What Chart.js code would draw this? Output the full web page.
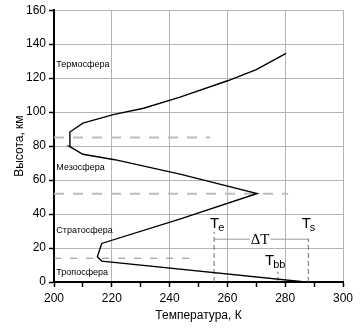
<!DOCTYPE html>
<html lang="ru">
<head>
    <meta charset="UTF-8">
    <title>Профиль температуры атмосферы</title>
    <script src="https://cdn.jsdelivr.net/npm/chart.js@4.4.1/dist/chart.umd.min.js"></script>
    <style>
        html, body { margin: 0; padding: 0; background: #fff; }
        #wrap { width: 363px; height: 328px; }
    </style>
</head>
<body>
    <div id="wrap"><canvas id="chart" width="363" height="328"></canvas></div>
    <script>
        // Temperature profile (K) vs altitude (km)
        const profileTemp = [287, 216.5, 215, 216.5, 243.5, 270.3, 243.6, 221, 210, 205.2, 205.5, 210, 220.5, 231, 243.6, 260.3, 270, 280.3];
        const profileAlt  = [0, 12.3, 14.9, 22.7, 37, 52.1, 63.5, 72, 75.2, 80, 88.3, 93.5, 98.5, 102.3, 108.8, 118.6, 125, 134.6];

        // Layer boundaries (dashed): altitude and where the dash ends
        const boundaryAlt = [85, 52, 14];
        const boundaryEnd = [254, 281, 249];

        // Characteristic temperatures
        const teTemp = 255.4, tsTemp = 288, tbbTemp = 277.5;
        const teTop = 29.5, tsTop = 25.5, tbbTop = 6, deltaAlt = 25.2;

        // Layer names and where they sit (K, km)
        const layerNames = ['Термосфера', 'Мезосфера', 'Стратосфера', 'Тропосфера'];
        const layerAlt = [128.3, 67.5, 30.5, 5.5];
        const layerTemp = 200.8;

        const xTicks = [200, 220, 240, 260, 280, 300];
        const yTicks = [0, 20, 40, 60, 80, 100, 120, 140, 160];

        const FONT = "Arial, 'Liberation Sans', sans-serif";

        function pts(xs, ys) {
            return xs.map((x, i) => ({ x: x, y: ys[i] }));
        }

        const datasets = [];
        datasets.push({
            data: pts(profileTemp, profileAlt),
            borderColor: '#000', borderWidth: 1.4, pointRadius: 0, showLine: true
        });
        boundaryAlt.forEach((a, i) => {
            const thin = i === 2;
            datasets.push({
                data: [{ x: 200, y: a }, { x: boundaryEnd[i], y: a }],
                borderColor: thin ? '#8c8c8c' : '#bdbdbd',
                borderWidth: thin ? 1 : 2,
                borderDash: thin ? [7, 9] : [10, 9],
                pointRadius: 0, showLine: true
            });
        });
        [[teTemp, teTop], [tsTemp, tsTop], [tbbTemp, tbbTop]].forEach(t => {
            datasets.push({
                data: [{ x: t[0], y: 0 }, { x: t[0], y: t[1] }],
                borderColor: '#6e6e6e', borderWidth: 1, borderDash: [5, 3],
                pointRadius: 0, showLine: true
            });
        });
        datasets.push({
            data: [{ x: teTemp, y: deltaAlt }, { x: tsTemp, y: deltaAlt }],
            borderColor: '#9a9a9a', borderWidth: 1, pointRadius: 0, showLine: true
        });

        const labelsPlugin = {
            id: 'labels',
            afterDatasetsDraw(chart) {
                const { ctx, scales: { x, y } } = chart;
                ctx.save();
                ctx.fillStyle = '#000';
                ctx.textBaseline = 'middle';
                ctx.textAlign = 'left';
                ctx.font = '9px ' + FONT;
                layerNames.forEach((n, i) => {
                    ctx.fillText(n, x.getPixelForValue(layerTemp), y.getPixelForValue(layerAlt[i]));
                });

                // T with subscript
                function tLabel(text, sub, temp, alt) {
                    const px = x.getPixelForValue(temp), py = y.getPixelForValue(alt);
                    ctx.textBaseline = 'alphabetic';
                    ctx.font = '15px ' + FONT;
                    ctx.fillText(text, px, py);
                    const w = ctx.measureText(text).width;
                    ctx.font = '11px ' + FONT;
                    ctx.fillText(sub, px + w - 1, py + 3);
                }
                tLabel('T', 'e', 254, 31.7);
                tLabel('T', 's', 285.7, 31.7);
                tLabel('T', 'bb', 273, 10);

                // ΔT over the line
                ctx.font = "15px 'Times New Roman', 'Liberation Serif', serif";
                ctx.textAlign = 'center';
                ctx.textBaseline = 'middle';
                const dx = x.getPixelForValue(271.3), dy = y.getPixelForValue(deltaAlt);
                const tw = ctx.measureText('ΔT').width;
                ctx.fillStyle = '#fff';
                ctx.fillRect(dx - tw / 2 - 1, dy - 5, tw + 2, 10);
                ctx.fillStyle = '#000';
                ctx.fillText('ΔT', dx, dy + 1);
                ctx.restore();
            }
        };

        new Chart(document.getElementById('chart'), {
            type: 'scatter',
            data: { datasets: datasets },
            options: {
                responsive: false,
                animation: false,
                layout: { padding: { top: 9, right: 20, left: 0, bottom: 0 } },
                plugins: { legend: { display: false }, tooltip: { enabled: false } },
                scales: {
                    x: {
                        type: 'linear', min: 200, max: 300,
                        afterFit(s) { s.height = 46; },
                        ticks: {
                            stepSize: 10, padding: 4, color: '#000',
                            font: { family: FONT, size: 12 },
                            callback: v => xTicks.includes(v) ? String(v) : ''
                        },
                        grid: {
                            color: c => (c.tick && c.tick.value % 20 === 0) ? '#b4b4b4' : 'rgba(0,0,0,0)',
                            tickColor: '#000', tickLength: 5, tickWidth: 1.5
                        },
                        border: { color: '#000', width: 2 },
                        title: {
                            display: true, text: 'Температура, К', color: '#000',
                            font: { family: FONT, size: 12 }, padding: { top: 0, bottom: 5 }
                        }
                    },
                    y: {
                        type: 'linear', min: 0, max: 160,
                        afterFit(s) { s.width = 54; },
                        ticks: {
                            stepSize: 20, padding: 3, color: '#000',
                            font: { family: FONT, size: 12 },
                            callback: v => yTicks.includes(v) ? String(v) : ''
                        },
                        grid: { color: '#b4b4b4', tickColor: '#000', tickLength: 5, tickWidth: 1.5 },
                        border: { color: '#000', width: 2 },
                        title: {
                            display: true, text: 'Высота, км', color: '#000',
                            font: { family: FONT, size: 12 }, padding: { top: 12, bottom: 0 }
                        }
                    }
                }
            },
            plugins: [labelsPlugin]
        });
    </script>
</body>
</html>
